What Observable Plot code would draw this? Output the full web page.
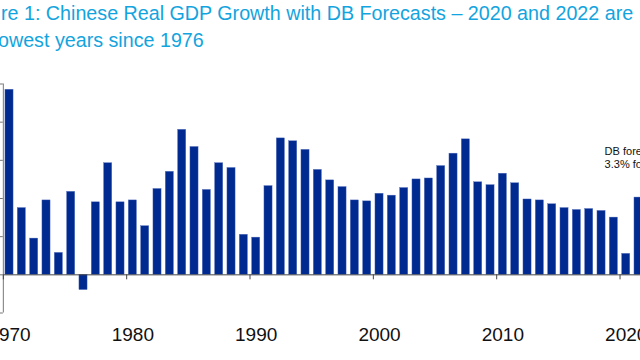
<!DOCTYPE html>
<html>
<head>
<meta charset="utf-8">
<script src="https://cdn.jsdelivr.net/npm/d3@7"></script>
<script src="https://cdn.jsdelivr.net/npm/@observablehq/plot@0.6"></script>
<style>
  html, body { margin: 0; padding: 0; background: #fff; overflow: hidden; }
  #wrap { position: relative; width: 640px; height: 360px; overflow: hidden; background: #fff; }
  #title { height: 56px; font-family: "Liberation Sans", Arial, sans-serif; font-size: 19.7px; color: #12a4de; white-space: nowrap; }
  #title div { height: 27px; line-height: 27px; }
  #chart svg { display: block; overflow: hidden; }
</style>
</head>
<body>
<div id="wrap">
  <div id="title">
    <div style="margin-left:1px">re 1: Chinese Real GDP Growth with DB Forecasts – 2020 and 2022 are</div>
    <div style="margin-left:-2px">owest years since 1976</div>
  </div>
  <div id="chart"></div>
</div>
<script>
const years = [1970,1971,1972,1973,1974,1975,1976,1977,1978,1979,
  1980,1981,1982,1983,1984,1985,1986,1987,1988,1989,
  1990,1991,1992,1993,1994,1995,1996,1997,1998,1999,
  2000,2001,2002,2003,2004,2005,2006,2007,2008,2009,
  2010,2011,2012,2013,2014,2015,2016,2017,2018,2019,
  2020,2021,2022];
const growth = [19.4,7.0,3.8,7.8,2.3,8.7,-1.6,7.6,11.7,7.6,
  7.8,5.1,9.0,10.8,15.2,13.4,8.9,11.7,11.2,4.2,
  3.9,9.3,14.3,14.0,13.1,11.0,9.9,9.2,7.8,7.7,
  8.5,8.3,9.1,10.0,10.1,11.4,12.7,14.2,9.7,9.4,
  10.6,9.6,7.9,7.8,7.4,7.0,6.8,6.9,6.7,6.0,
  2.2,8.1,3.3];
const decadeLabels = [1970,1980,1990,2000,2010,2020];
const yTicks = [-4,0,4,8,12,16,20];
const noteLines = ["DB forecast", "3.3% for 2022"];
const noteYear = 2018.25, noteValue = 12.3;

const data = years.map((y, i) => ({year: y, value: growth[i]}));
const barColor = "#002a90";
const axisGray = "#777";

const chart = Plot.plot({
  width: 640,
  height: 304,
  marginLeft: 9,
  marginRight: 14.3,
  marginTop: 27.5,
  marginBottom: 47.5,
  x: {domain: [1970, 2020], axis: null},
  y: {domain: [-4, 20], axis: null},
  style: {fontFamily: "'Liberation Sans', Arial, sans-serif", background: "#fff"},
  marks: [
    Plot.rectY(data, {x1: d => d.year - 0.33, x2: d => d.year + 0.33, y1: 0, y2: "value", fill: barColor, stroke: "#5a75c0", strokeWidth: 0.4}),
    Plot.ruleY([0], {x1: years[0] - 0.5, x2: years[years.length - 1] + 1, stroke: "#444", strokeWidth: 1}),
    Plot.ruleX([years[0] - 0.5], {y1: yTicks[0], y2: yTicks[yTicks.length - 1], stroke: axisGray, strokeWidth: 1}),
    Plot.ruleY(yTicks, {x1: years[0] - 0.5, x2: years[0] - 0.5, insetLeft: -6, stroke: axisGray, strokeWidth: 1}),
    Plot.ruleX(decadeLabels, {x: d => d - 0.5, y1: 0, y2: 0, insetBottom: -5, stroke: "#444", strokeWidth: 1}),
    Plot.axisX(decadeLabels, {tickSize: 0, tickPadding: 14, fontSize: 19, fill: "#111", tickFormat: d => String(d)}),
    Plot.text([noteLines.join("\n")], {x: noteYear, y: noteValue, text: d => d, textAnchor: "start", lineAnchor: "middle", lineHeight: 1.15, fontSize: 11, fill: "#111"})
  ]
});
document.getElementById("chart").appendChild(chart);
</script>
</body>
</html>
